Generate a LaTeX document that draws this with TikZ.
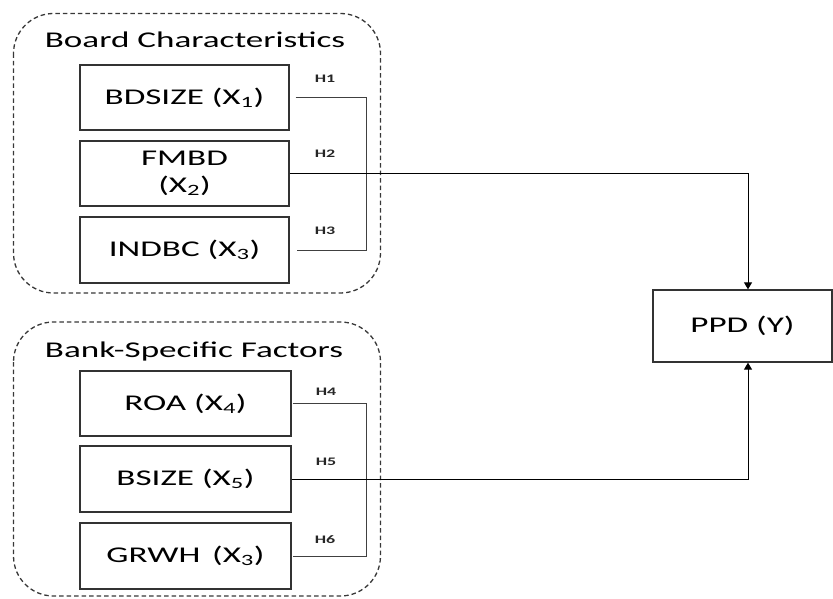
\documentclass[tikz,border=0pt]{standalone}
\usepackage{fontspec}
\setmainfont{Carlito}[FakeStretch=1.56]
\usetikzlibrary{arrows.meta}
\begin{document}
\begin{tikzpicture}[x=1pt,y=-1pt,
  varbox/.style={draw=black!80,line width=1.3pt,minimum width=209pt,minimum height=65pt,inner sep=0pt,align=center,font=\fontsize{22.5}{27}\selectfont},
  grp/.style={draw=black!78,line width=1.3pt,dash pattern=on 4.5pt off 3pt,rounded corners=40pt},
  grptitle/.style={anchor=base,font=\fontsize{22.5}{27}\selectfont,inner sep=0pt},
  hlab/.style={font=\fontsize{11.5}{12}\selectfont\bfseries,inner sep=0pt,text=black!85},
  brk/.style={draw=black!75,line width=1pt},
  link/.style={draw=black,line width=1pt,-{Triangle[width=8pt,length=7pt]}}]
\useasboundingbox (0,0) rectangle (833,599);
% groups
\draw[grp] (13.5,13.5) rectangle (380.5,293);
\draw[grp] (13.5,322) rectangle (380.5,596);
\node[grptitle] (t1) at (195,48) {Board Characteristics};
\node[grptitle] (t2) at (194,357) {Bank-Specific Factors};
% variable boxes
\node[varbox] (b1) at (184.5,97.5) {BDSIZE (X\textsubscript{1})};
\node[varbox] (b2) at (184.5,173.5) {FMBD\\(X\textsubscript{2})};
\node[varbox,minimum height=66pt] (b3) at (184.5,250) {INDBC (X\textsubscript{3})};
\node[varbox,minimum width=211pt] (b4) at (185.5,403.5) {ROA (X\textsubscript{4})};
\node[varbox,minimum width=211pt,minimum height=66pt] (b5) at (185.5,479) {BSIZE (X\textsubscript{5})};
\node[varbox,minimum width=211pt,minimum height=66pt] (b6) at (185.5,556) {GRWH\ \,(X\textsubscript{3})};
\node[varbox,minimum width=179pt,minimum height=72pt] (ppd) at (742.5,326) {PPD (Y)};
% hypothesis labels
\node[hlab] (h1) at (325,79) {H1};
\node[hlab] (h2) at (325,154) {H2};
\node[hlab] (h3) at (325,231) {H3};
\node[hlab] (h4) at (326,392) {H4};
\node[hlab] (h5) at (326,462) {H5};
\node[hlab] (h6) at (325,540) {H6};
% brackets
\draw[brk] ([xshift=6pt]b1.east) -- ++(71,0) |- ([xshift=7pt]b3.east);
\draw[brk] ([xshift=1pt]b4.east) -- ++(74,0) |- ([xshift=1pt]b6.east);
% arrows to PPD
\draw[link] (b2.east) -| ([xshift=5.5pt]ppd.north);
\draw[link] (b5.east) -| ([xshift=5.5pt]ppd.south);
\end{tikzpicture}
\end{document}
